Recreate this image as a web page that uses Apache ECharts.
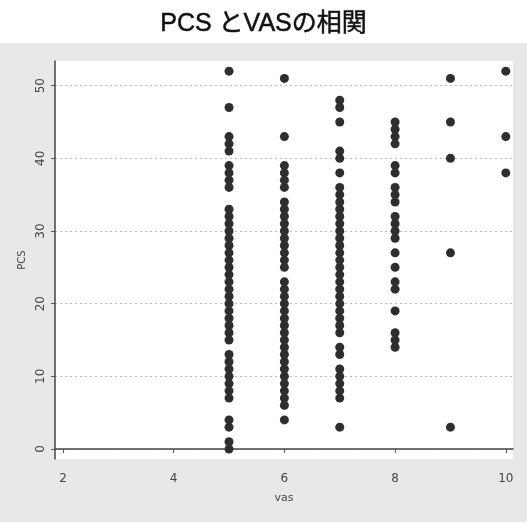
<!DOCTYPE html>
<html><head><meta charset="utf-8">
<script src="https://cdn.jsdelivr.net/npm/echarts@6/dist/echarts.min.js"></script>
<style>html,body{margin:0;padding:0;background:#fff}#c{width:527px;height:522px}</style>
</head><body><div id="c"></div>
<script>
var vasLevels = [5, 6, 7, 8, 9, 10];
var pcsVas5 = [0,1,3,4,7,8,9,10,11,12,13,15,16,17,18,19,20,21,22,23,24,25,26,27,28,29,30,31,32,33,36,37,38,39,41,42,43,47,52];
var pcsVas6 = [4,6,7,8,9,10,11,12,13,14,15,16,17,18,19,20,21,22,23,25,26,27,28,29,30,31,32,33,34,36,37,38,39,43,51];
var pcsVas7 = [3,7,8,9,10,11,13,14,16,17,18,19,20,21,22,23,24,25,26,27,28,29,30,31,32,33,34,35,36,38,40,41,45,47,48];
var pcsVas8 = [14,15,16,19,22,23,25,27,29,30,31,32,34,35,36,38,39,42,43,44,45];
var pcsVas9 = [3,27,40,45,51];
var pcsVas10 = [38,43,52];
var xTicks = [2, 4, 6, 8, 10];
var yTicks = [0, 10, 20, 30, 40, 50];

var cols = [pcsVas5, pcsVas6, pcsVas7, pcsVas8, pcsVas9, pcsVas10];
var pts = [];
cols.forEach(function (arr, i) {
  arr.forEach(function (v) { pts.push([vasLevels[i], v]); });
});

var chart = echarts.init(document.getElementById('c'));
chart.setOption({
  animation: false,
  backgroundColor: '#ffffff',
  graphic: [{
    type: 'rect', z: -10, silent: true,
    shape: { x: 0, y: 43, width: 527, height: 479 },
    style: { fill: '#e8e8e8' }
  }],
  title: {
    text: 'PCS とVASの相関',
    left: 'center', top: 7,
    textStyle: { fontFamily: 'Liberation Sans, Noto Sans CJK JP, sans-serif', fontSize: 25, fontWeight: 'normal', color: '#111', textBorderColor: '#111', textBorderWidth: 0.5 }
  },
  grid: {
    left: 55, right: 14, top: 61, bottom: 63,
    show: true, backgroundColor: '#ffffff', borderWidth: 0
  },
  xAxis: {
    type: 'value', min: 1.856, max: 10.13,
    name: 'vas', nameLocation: 'middle', nameGap: 34,
    nameTextStyle: { fontFamily: 'DejaVu Sans', fontSize: 11, color: '#444' },
    axisLine: { show: true, lineStyle: { color: '#444', width: 1.5 } },
    axisTick: { show: true, length: 4, customValues: xTicks, lineStyle: { color: '#555' } },
    axisLabel: { customValues: xTicks, margin: 14, fontFamily: 'DejaVu Sans', fontSize: 12, color: '#444' },
    splitLine: { show: false }
  },
  yAxis: {
    type: 'value', min: -1.38, max: 53.4,
    name: 'PCS', nameLocation: 'middle', nameGap: 20, nameRotate: 90,
    nameTextStyle: { fontFamily: 'DejaVu Sans', fontSize: 10, color: '#444' },
    axisLine: { show: true, lineStyle: { color: '#444', width: 1.5 } },
    axisTick: { show: true, length: 4, customValues: yTicks, lineStyle: { color: '#555' } },
    axisLabel: { customValues: yTicks, rotate: 90, margin: 8, fontFamily: 'DejaVu Sans', fontSize: 12, color: '#444' },
    splitLine: { show: true, customValues: yTicks, lineStyle: { color: '#bbb', type: [2, 3], width: 1 } }
  },
  series: [{
    type: 'scatter',
    data: pts,
    symbol: 'circle',
    symbolSize: 9,
    itemStyle: { color: '#2e2e2e', opacity: 1 }
  }]
});
</script></body></html>
